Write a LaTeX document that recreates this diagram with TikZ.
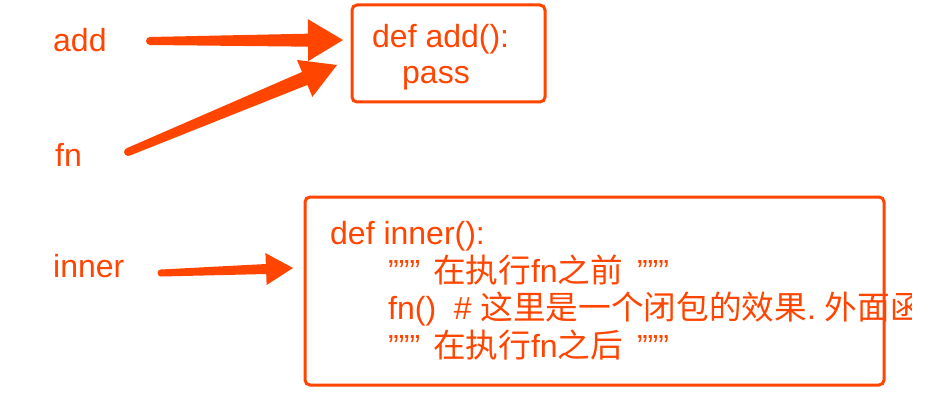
\documentclass[tikz,border=0pt]{standalone}
\usepackage{fontspec}
\setmainfont{Liberation Sans}
\newfontfamily\cjk{Noto Sans CJK SC}[Scale=1.02]
\usetikzlibrary{calc}
\definecolor{hot}{HTML}{FF4500}
\newcommand{\qqq}{\symbol{34}\symbol{34}\symbol{34}}

\newcommand{\fatarrow}[6]{%
  \coordinate (arrowbase) at ($(#2)!#5!(#1)$);
  \fill[hot] (#1) circle (#3);
  \fill[hot] ($(#1)!#3!90:(#2)$) -- ($(arrowbase)!#4!90:(#2)$) -- ($(arrowbase)!#6!90:(#2)$) -- (#2)
    -- ($(arrowbase)!#6!-90:(#2)$) -- ($(arrowbase)!#4!-90:(#2)$) -- ($(#1)!#3!-90:(#2)$) -- cycle;}

\begin{document}
\begin{tikzpicture}[x=1pt,y=-1pt,
  codebox/.style={draw=hot, line width=3pt, rounded corners=5pt, inner sep=0pt},
  codetext/.style={anchor=base west, inner sep=0pt, text=hot, font=\fontsize{32}{38}\selectfont}]
\useasboundingbox (0,0) rectangle (952,409);

\node[codetext] at (53, 52) (add) {add};
\node[codetext] at (55, 166) (fn) {fn};
\node[codetext] at (53, 277) (inner) {inner};

\node[codebox, minimum width=193pt, minimum height=97pt] at (448.5, 53.5) (addbox) {};
\node[codetext] at (372, 48) (adddef) {def add():};
\node[codetext] at (402, 84) (addpass) {pass};

\node[codebox, minimum width=579pt, minimum height=188pt] at (594.5, 291) (innerbox) {};
\begin{scope}
\clip (0,0) rectangle (911,409);
\node[codetext] at (330, 244) (innerdef) {def inner():};
\node[codetext] at (388, 282) (before) {\qqq\hspace{13pt}{\cjk 在执行}fn{\cjk 之前}\hspace{14pt}\qqq};
\node[codetext] at (388, 319) (call) {fn()\ \ \#\ {\cjk 这里是一个闭包的效果}.\ {\cjk 外面函}};
\node[codetext] at (388, 357) (after) {\qqq\hspace{13pt}{\cjk 在执行}fn{\cjk 之后}\hspace{14pt}\qqq};
\end{scope}

\coordinate (addtail) at (150, 41);
\coordinate (addtip) at (343, 40);
\coordinate (fntail) at (128, 152);
\coordinate (fntip) at (337, 65);
\coordinate (innertail) at (161, 273);
\coordinate (innertip) at (293, 268);
\fatarrow{addtail}{addtip}{4pt}{6.5pt}{35pt}{21pt}
\fatarrow{fntail}{fntip}{4pt}{7pt}{35pt}{20pt}
\fatarrow{innertail}{innertip}{3.5pt}{5pt}{27pt}{16pt}

\end{tikzpicture}
\end{document}
